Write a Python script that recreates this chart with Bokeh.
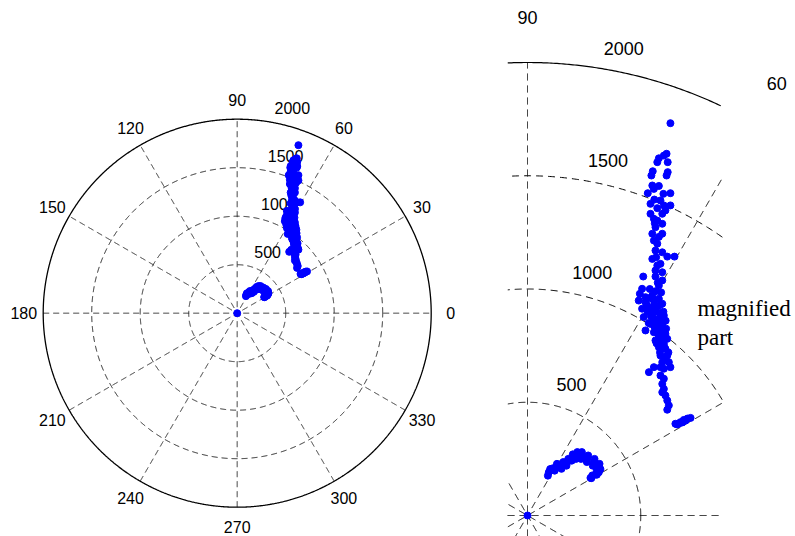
import numpy as np
from bokeh.plotting import figure
from bokeh.layouts import row
from bokeh.models import Range1d
from bokeh.core.properties import value
from bokeh.embed import file_html
from bokeh.resources import INLINE

# ---------------- data ----------------
ring_values = [500, 1000, 1500, 2000]
ring_labels = ["500", "1000", "1500", "2000"]
angle_ticks = [0, 30, 60, 90, 120, 150, 180, 210, 240, 270, 300, 330]
angle_labels = [str(a) for a in angle_ticks]
spoke_angles = [0, 30, 60, 90, 120, 150]
r_max = 2000

# measured points (rho*cos(theta), rho*sin(theta))
band_x = [631, 614, 602, 580, 573, 619, 553, 547, 619, 614, 551, 558, 531, 631, 543, 587,
          602, 631, 573, 609, 595, 543, 558, 573, 595, 565, 551, 595, 558, 573, 565, 595,
          617, 649, 551, 573, 587, 565, 595, 511, 565, 595, 580, 506, 496, 521, 551, 580,
          491, 521, 558, 506, 543, 573, 595, 513, 551, 587, 602, 521, 543, 565, 595, 558,
          587, 609, 565, 595, 617, 580, 609, 587, 617, 595, 624, 558, 602, 631, 536, 587,
          587, 602, 595, 602, 595, 609, 617, 624, 617,
          528, 566, 578, 576, 612, 580, 602, 622, 606, 540, 575, 568, 580, 562, 580, 600, 560,
          530, 545, 560, 575, 590, 600, 585, 560, 540, 565, 590, 610, 570, 600, 585, 605, 560, 535]
band_y = [1732, 1597, 1589, 1577, 1560, 1560, 1520, 1501, 1516, 1501, 1457, 1442, 1423, 1423, 1376, 1391,
          1369, 1369, 1357, 1347, 1332, 1332, 1310, 1302, 1288, 1273, 1244, 1244, 1214, 1200, 1170, 1162,
          1143, 1143, 1133, 1104, 1111, 1082, 1074, 1055, 1055, 1038, 1015, 1001, 979, 964, 971, 957,
          949, 942, 949, 913, 913, 920, 935, 876, 883, 891, 883, 817, 846, 839, 846, 809,
          817, 802, 773, 773, 780, 743, 736, 706, 706, 677, 677, 655, 648, 655, 633, 655,
          618, 604, 581, 559, 544, 530, 508, 486, 467,
          928, 899, 866, 828, 825, 792, 757, 720, 690, 1000, 1028, 1140, 1230, 1290, 1455, 1420, 1395,
          900, 880, 860, 850, 860, 900, 930, 930, 960, 990, 985, 860, 760, 790, 720, 740, 835, 850]

short_x = [653, 668, 675, 684, 698, 706, 720, 660, 690]
short_y = [405, 405, 412, 411, 419, 428, 431, 402, 422]

hook_x = [94, 110, 124, 153, 175, 197, 216, 234, 264, 293, 315, 315, 300, 286, 278,
          100, 130, 158, 180, 200, 220, 240, 268, 296, 318, 322,
          90, 120, 150, 172, 195, 214, 236, 262, 288, 306, 306, 282, 250, 140]
hook_y = [191, 208, 213, 221, 235, 257, 265, 265, 250, 235, 213, 191, 181, 177, 166,
          205, 228, 236, 250, 270, 280, 280, 265, 250, 228, 205,
          176, 198, 206, 220, 242, 250, 250, 236, 220, 200, 180, 165, 258, 215]

origin_x = [0]
origin_y = [0]

pts_x = band_x + short_x + hook_x + origin_x
pts_y = band_y + short_y + hook_y + origin_y

SANS = value("Liberation Sans")
SERIF = value("Liberation Serif")


def polar_panel(width, height, cx_px, cy_top_px, scale, font_px, label_dx_px, label_up_px,
                clip=None, ring_w=1.0, dash="6 4", grid_color="#222222", msize=7):
    x0, x1 = -cx_px / scale, (width - cx_px) / scale
    y0, y1 = -(height - cy_top_px) / scale, cy_top_px / scale
    p = figure(width=width, height=height, output_backend="svg", toolbar_location=None,
               x_axis_location=None, y_axis_location=None, min_border=0,
               x_range=Range1d(x0, x1), y_range=Range1d(y0, y1))
    p.grid.visible = False
    p.outline_line_color = None
    p.background_fill_color = "white"
    p.border_fill_color = "white"

    def masked(x, y):
        x = np.asarray(x, dtype=float).copy()
        y = np.asarray(y, dtype=float).copy()
        if clip is not None:
            xmin, xmax, ymax = clip
            m = (x < xmin) | (x > xmax) | (y > ymax)
            x[m] = np.nan
            y[m] = np.nan
        return x, y

    # spokes
    t = np.linspace(-r_max, r_max, 2001)
    for a in spoke_angles:
        ar = np.deg2rad(a)
        x, y = masked(t * np.cos(ar), t * np.sin(ar))
        p.line(x, y, line_color=grid_color, line_width=1, line_dash=dash)
    # rings
    th = np.linspace(0, 2 * np.pi, 1441)
    for rv in ring_values:
        x, y = masked(rv * np.cos(th), rv * np.sin(th))
        if rv == r_max:
            p.line(x, y, line_color="black", line_width=ring_w)
        else:
            p.line(x, y, line_color=grid_color, line_width=1, line_dash=dash)

    # angle labels (only those that fall inside the visible window)
    ang = np.deg2rad(angle_ticks)
    ax = 1.1 * r_max * np.cos(ang)
    ay = 1.1 * r_max * np.sin(ang)
    mx = 12 / scale
    my = 8 / scale
    keep = (ax - mx >= x0) & (ax + mx <= x1) & (ay - my >= y0) & (ay + my <= y1)
    p.text(x=list(ax[keep]), y=list(ay[keep]),
           text=[s for s, k in zip(angle_labels, keep) if k],
           text_align="center", text_baseline="middle",
           text_font=SANS, text_font_size=f"{font_px}px", text_color="black")

    # radial labels at 82 degrees
    rinc = ring_values[1] - ring_values[0]
    c82, s82 = np.cos(np.deg2rad(82)), np.sin(np.deg2rad(82))
    rl = np.array(ring_values, dtype=float) + rinc / 20
    p.text(x=list(rl * c82 + label_dx_px / scale), y=list(rl * s82 + label_up_px / scale),
           text=ring_labels, text_align="left", text_baseline="bottom",
           text_font=SANS, text_font_size=f"{font_px}px", text_color="black")

    # data
    p.scatter(pts_x, pts_y, size=msize, fill_color="#0000FF", line_color="#0000FF", marker="circle")
    return p


H = 536
left = polar_panel(480, H, 236.7, 312.7, 0.0970, 16, 10, 5, clip=None, ring_w=1.3)
right = polar_panel(315, H, 47.0, 515.0, 0.2265, 18, 12.5, 6.5,
                    clip=(-88, 861, 2000.5), ring_w=1.2, dash="7 5", grid_color="black")

s2 = 0.2265
right.text(x=[(697 - 527) / s2, (697 - 527) / s2], y=[(515 - 308.3) / s2, (515 - 336.7) / s2],
           text=["magnified", "part"], text_align="left", text_baseline="alphabetic",
           text_font=SERIF, text_font_size="23px", text_color="black")

layout = row(left, right)
open("out.html", "w").write(file_html(layout, INLINE))
